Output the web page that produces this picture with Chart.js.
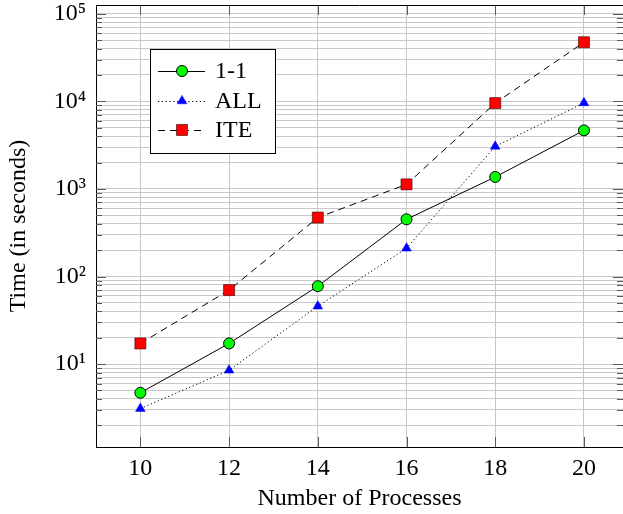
<!DOCTYPE html>
<html><head><meta charset="utf-8">
<script src="https://cdn.jsdelivr.net/npm/chart.js@4.4.0/dist/chart.umd.min.js"></script>
<style>html,body{margin:0;padding:0;background:#fff;}canvas{display:block;}</style>
</head><body>
<canvas id="c" width="623" height="514"></canvas>
<script>
// ---- data ----
const processes = [10, 12, 14, 16, 18, 20];
const seriesLabels = ['1-1', 'ALL', 'ITE'];
const oneToOne = [4.7, 17.2, 77.5, 450, 1370, 4660];
const allSeries = [3.1, 8.5, 45.8, 210, 3060, 9600];
const iteSeries = [17.2, 70, 471, 1127, 9550, 47300];
const xTicks = [10, 12, 14, 16, 18, 20];
const yMajorTicks = [10, 100, 1000, 10000, 100000];
const xTitle = 'Number of Processes';
const yTitle = 'Time (in seconds)';

const FONT = '"Liberation Serif", "DejaVu Serif", serif';
const SUP = {'0':'\u2070','1':'\u00B9','2':'\u00B2','3':'\u00B3','4':'\u2074','5':'\u2075','6':'\u2076','7':'\u2077','8':'\u2078','9':'\u2079'};

function isMajor(v) {
  return yMajorTicks.some(m => Math.abs(m - v) / m < 1e-6);
}
function yTickValues(min, max) {
  const out = [];
  for (let k = 0; k <= 6; k++) {
    for (let m = 1; m <= 9; m++) {
      const v = m * Math.pow(10, k);
      if (v >= min && v <= max) out.push(v);
    }
  }
  return out;
}
function pts(vals) { return processes.map((x, i) => ({x: x, y: vals[i]})); }

function drawMarker(ctx, style, x, y, r, fill, stroke, bw) {
  ctx.save();
  ctx.setLineDash([]);
  ctx.beginPath();
  if (style === 'circle') {
    ctx.arc(x, y, r, 0, Math.PI * 2);
  } else if (style === 'triangle') {
    ctx.moveTo(x, y - r);
    ctx.lineTo(x + r * Math.sin(Math.PI / 3), y + r / 2);
    ctx.lineTo(x - r * Math.sin(Math.PI / 3), y + r / 2);
    ctx.closePath();
  } else {
    const s = r * Math.SQRT1_2;
    ctx.rect(x - s, y - s, 2 * s, 2 * s);
  }
  ctx.fillStyle = fill; ctx.fill();
  if (bw > 0) { ctx.strokeStyle = stroke; ctx.lineWidth = bw; ctx.stroke(); }
  ctx.restore();
}

const frameAndTicks = {
  id: 'frameAndTicks',
  afterDatasetsDraw(chart) {
    const {ctx, chartArea: a, scales: {x, y}} = chart;
    ctx.save();
    ctx.strokeStyle = '#5a5a5a';
    ctx.lineWidth = 1;
    y.ticks.forEach(t => {
      const py = Math.round(y.getPixelForValue(t.value)) + 0.5;
      const len = isMajor(t.value) ? 10 : 6;
      ctx.beginPath();
      ctx.moveTo(a.left, py); ctx.lineTo(a.left + len, py);
      ctx.moveTo(a.right, py); ctx.lineTo(a.right - len, py);
      ctx.stroke();
    });
    x.ticks.forEach(t => {
      const px = Math.round(x.getPixelForValue(t.value)) + 0.5;
      ctx.beginPath();
      ctx.moveTo(px, a.bottom); ctx.lineTo(px, a.bottom - 10);
      ctx.moveTo(px, a.top); ctx.lineTo(px, a.top + 10);
      ctx.stroke();
    });
    ctx.strokeStyle = '#000';
    ctx.beginPath();
    ctx.moveTo(a.left, Math.round(a.top) + 0.5);
    ctx.lineTo(a.right, Math.round(a.top) + 0.5);
    ctx.stroke();
    ctx.restore();
  }
};

const boxLegend = {
  id: 'boxLegend',
  afterDraw(chart) {
    const ctx = chart.ctx;
    const bx = 150.5, by = 49.5, bw = 125, bh = 104;
    ctx.save();
    ctx.fillStyle = '#fff';
    ctx.fillRect(bx, by, bw, bh);
    ctx.strokeStyle = '#000'; ctx.lineWidth = 1;
    ctx.strokeRect(bx, by, bw, bh);
    const rows = [71, 101, 130];
    chart.data.datasets.forEach((ds, i) => {
      const cy = rows[i];
      ctx.save();
      ctx.strokeStyle = ds.borderColor; ctx.lineWidth = ds.borderWidth;
      ctx.setLineDash(ds.borderDash || []);
      ctx.beginPath(); ctx.moveTo(158, cy + 0.5); ctx.lineTo(205, cy + 0.5); ctx.stroke();
      ctx.restore();
      drawMarker(ctx, ds.pointStyle, 182, cy, ds.pointRadius, ds.pointBackgroundColor, ds.pointBorderColor, ds.pointBorderWidth);
      ctx.fillStyle = '#000';
      ctx.font = '24px ' + FONT;
      ctx.textBaseline = 'middle';
      ctx.textAlign = 'left';
      ctx.fillText(ds.label, 215, cy + 1);
    });
    ctx.restore();
  }
};

new Chart(document.getElementById('c'), {
  type: 'line',
  data: {
    datasets: [
      {label: seriesLabels[0], data: pts(oneToOne), borderColor: '#000', borderWidth: 1, borderDash: [],
       pointStyle: 'circle', pointRadius: 5.5, pointBackgroundColor: '#00ff00', pointBorderColor: '#000', pointBorderWidth: 1, tension: 0, fill: false},
      {label: seriesLabels[1], data: pts(allSeries), borderColor: '#000', borderWidth: 1, borderDash: [1.2, 2.6],
       pointStyle: 'triangle', pointRadius: 5.6, pointBackgroundColor: '#0000ff', pointBorderColor: '#0000ff', pointBorderWidth: 0.5, tension: 0, fill: false},
      {label: seriesLabels[2], data: pts(iteSeries), borderColor: '#000', borderWidth: 1, borderDash: [7, 5],
       pointStyle: 'rect', pointRadius: 7.8, pointBackgroundColor: '#ff0000', pointBorderColor: '#3a0000', pointBorderWidth: 0.6, tension: 0, fill: false}
    ]
  },
  options: {
    responsive: false, animation: false,
    layout: {autoPadding: false, padding: {top: 5, left: 0, right: 0, bottom: 0}},
    plugins: {legend: {display: false}, tooltip: {enabled: false}},
    scales: {
      x: {
        type: 'linear', min: 9, max: 20.88,
        afterBuildTicks: s => { s.ticks = xTicks.map(v => ({value: v})); },
        afterFit: s => { s.height = 67; s.paddingLeft = 0; s.paddingRight = 0; },
        grid: {color: '#c8c8c8', lineWidth: 1, drawTicks: false},
        border: {color: '#000', width: 1},
        ticks: {padding: 7, color: '#000', font: {family: FONT, size: 24}, maxRotation: 0, autoSkip: false, callback: v => String(v)},
        title: {display: true, text: xTitle, color: '#000', font: {family: FONT, size: 24}, padding: {top: 0, bottom: 1}}
      },
      y: {
        type: 'logarithmic', min: 1.13, max: 1.26e5,
        afterBuildTicks: s => { s.ticks = yTickValues(s.min, s.max).map(v => ({value: v, major: isMajor(v)})); },
        afterFit: s => { s.width = 96; s.paddingTop = 0; s.paddingBottom = 0; },
        grid: {color: '#c8c8c8', lineWidth: 1, drawTicks: false},
        border: {color: '#000', width: 1},
        ticks: {padding: 10, color: '#000', font: {family: FONT, size: 24}, autoSkip: false,
          callback: v => isMajor(v) ? '10' + String(Math.round(Math.log10(v))).split('').map(d => SUP[d]).join('') : ''},
        title: {display: true, text: yTitle, color: '#000', font: {family: FONT, size: 24}, padding: {top: 4, bottom: 0}}
      }
    }
  },
  plugins: [frameAndTicks, boxLegend]
});
</script>
</body></html>
